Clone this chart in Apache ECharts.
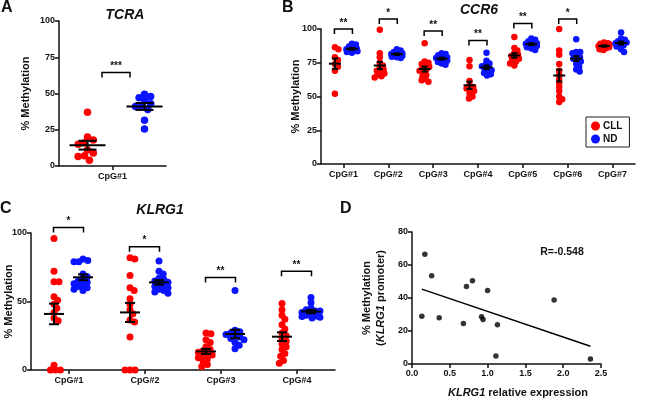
<!DOCTYPE html>
<html>
<head>
<meta charset="utf-8">
<script src="https://cdn.jsdelivr.net/npm/echarts@6/dist/echarts.min.js"></script>
<style>
  html, body { margin: 0; padding: 0; background: #fff; }
  #chart { width: 650px; height: 399px; }
</style>
</head>
<body>
<div id="chart"></div>
<script>
// ---- data ----
const tcraCats = ['CpG#1'];
const tcraCLL = [[37, 20, 18, 16, 15, 11, 9, 7, 6.5, 4]];
const tcraND = [[49.5, 48, 47, 45, 43, 41, 41, 39, 31.5, 25.5]];
const tcraSig = ['***'];
const tcraSigY = [64.5];

const ccr6Cats = ['CpG#1', 'CpG#2', 'CpG#3', 'CpG#4', 'CpG#5', 'CpG#6', 'CpG#7'];
const ccr6CLL = [
    [86.5, 85, 79, 77, 74, 72, 69, 52],
    [99.5, 82, 79, 75, 73, 71, 70, 69, 68, 67, 66, 65, 64],
    [89.5, 76, 75, 74, 73, 72, 71, 70, 69, 68, 66, 65, 63, 62, 61],
    [77, 72.5, 61.5, 58, 57, 56, 55, 54, 52, 50, 48.5],
    [94, 86, 84, 82, 81, 80, 79, 78, 77, 76, 74.5, 73],
    [100, 84, 81, 74, 69, 66, 63, 60, 57, 54, 50, 48, 46],
    [90, 89.5, 89, 88.5, 88, 87.5, 87, 86.5, 86, 85, 84.5]
];
const ccr6ND = [
    [89, 88.5, 87, 86, 85.5, 85, 84.5, 84, 83.5, 83, 82.5],
    [85, 84, 83, 82.5, 82, 81.5, 81, 80.5, 80, 79.5, 79, 78.5],
    [82, 81.5, 80.5, 79.5, 79, 78.5, 78, 77.5, 76.5, 75.5, 74.5, 73.5],
    [82.5, 76.5, 74.5, 73.5, 72.5, 71.5, 70.5, 69.5, 68.5, 67.5, 66.5, 65.5],
    [93, 92, 91, 90, 89.5, 89, 88.5, 88, 87.5, 86.5, 85.5, 84.5],
    [92.5, 83, 83, 82, 80, 79, 78, 77, 76, 74, 72, 70, 68.5],
    [97.5, 93, 92, 91, 90.5, 90, 89.5, 89, 88, 87, 85, 83]
];
const ccr6Sig = ['**', '*', '**', '**', '**', '*', ''];
const ccr6SigY = [100, 107.5, 98.5, 91.5, 104, 107.5, null];

const klrg1Cats = ['CpG#1', 'CpG#2', 'CpG#3', 'CpG#4'];
const klrg1CLL = [
    [96, 72, 64.5, 64.5, 53.5, 51, 48, 45, 42, 38, 36, 3.5, 0, 0, 0],
    [82, 81, 69, 60, 58, 52, 48, 44, 41, 36.5, 35, 24, 0, 0, 0],
    [27, 26.5, 22, 20, 17, 15, 14, 13, 12, 11, 10, 9, 8, 6, 4, 2.5],
    [48.5, 44, 40, 37, 33, 30, 27, 25, 23, 21, 19, 17, 15, 12, 10, 7, 5]
];
const klrg1ND = [
    [81, 80, 79, 79, 70, 68, 66, 65, 64, 63, 62, 61, 60, 59, 58],
    [79.5, 72, 70, 67, 66, 65, 64, 63, 62, 61, 60, 59, 58, 57, 56],
    [58, 29, 28, 27, 26, 25, 24, 23, 22, 20, 18, 15.5],
    [53, 49, 45, 43, 44, 43, 42, 41, 40, 39.5, 39, 38.5, 38]
];
const klrg1Sig = ['*', '*', '**', '**'];
const klrg1SigY = [104, 90, 67.5, 72];

const exprX = [0.17, 0.13, 0.26, 0.36, 0.68, 0.72, 0.80, 0.92, 0.94, 1.00, 1.11, 1.13, 1.88, 2.36];
const methY = [66.5, 29, 53.5, 28, 24.6, 47, 50.5, 28.7, 27, 44.6, 4.8, 23.8, 38.8, 3];
const rLabel = 'R=-0.548';

// ---- styling ----
const FONT = 'Liberation Sans, Arial, sans-serif';
const RED = '#ff0000';
const BLUE = '#0a14ff';
const INK = '#111';

// cllOff / ndOff: pixel offset of each group from its category centre
const panels = [
    { cats: tcraCats, cll: tcraCLL, nd: tcraND, sig: tcraSig, sigY: tcraSigY,
      grid: { left: 59, top: 21, width: 107, height: 145 }, interval: 25, nameGap: 28,
      cllOff: -25, ndOff: 32, dot: 7.5, minDist: 6.5, spread: 14, meanW: 36, capW: 18, half: 14 },
    { cats: ccr6Cats, cll: ccr6CLL, nd: ccr6ND, sig: ccr6Sig, sigY: ccr6SigY,
      grid: { left: 321, top: 29, width: 314, height: 135 }, interval: 25, nameGap: 20,
      cllOff: -8.5, ndOff: 8.5, dot: 6.5, minDist: 4, spread: 5.5, meanW: 12, capW: 6, half: 9 },
    { cats: klrg1Cats, cll: klrg1CLL, nd: klrg1ND, sig: klrg1Sig, sigY: klrg1SigY,
      grid: { left: 31, top: 233, width: 304, height: 137 }, interval: 50, nameGap: 17,
      cllOff: -15, ndOff: 14, dot: 7, minDist: 5, spread: 9, meanW: 20, capW: 10, half: 15 }
];

function mean(a) {
    return a.reduce((s, v) => s + v, 0) / a.length;
}
function sem(a) {
    const m = mean(a);
    const v = a.reduce((s, x) => s + (x - m) * (x - m), 0) / (a.length - 1);
    return Math.sqrt(v / a.length);
}

// simple beeswarm: horizontal pixel offsets (limited to +-spread) so dots don't pile up
function swarm(values, yScale, minDist, spread) {
    const placed = [];
    return values.map(v => {
        const y = v * yScale;
        const cands = [0, spread, -spread];
        placed.forEach(q => {
            const dy = Math.abs(q.y - y);
            if (dy < minDist) {
                const dx = Math.sqrt(minDist * minDist - dy * dy);
                cands.push(q.x + dx, q.x - dx);
            }
        });
        const ok = cands.filter(c => Math.abs(c) <= spread + 0.01);
        ok.sort((a, b) => Math.abs(a) - Math.abs(b));
        const gap = c => Math.min(Infinity, ...placed.map(q => Math.hypot(q.x - c, q.y - y)));
        let x = ok.find(c => gap(c) >= minDist - 0.01);
        if (x === undefined) {
            x = ok.reduce((best, c) => (gap(c) > gap(best) ? c : best), ok[0]);
        }
        placed.push({ x, y });
        return x;
    });
}

const axisLine = { show: true, onZero: false, lineStyle: { color: INK, width: 1.5 } };
const axisTick = { show: true, length: 4, lineStyle: { color: INK, width: 1.5 } };
const tickLabel = { color: INK, fontFamily: FONT, fontWeight: 'bold', fontSize: 9 };

const grids = [];
const xAxes = [];
const yAxes = [];
const series = [];

panels.forEach((p, k) => {
    const n = p.cats.length;
    grids.push(Object.assign({ outerBoundsMode: 'none', containLabel: false }, p.grid));
    xAxes.push({
        type: 'category', gridIndex: k, data: p.cats,
        axisLine, axisTick: Object.assign({ alignWithLabel: true }, axisTick),
        axisLabel: Object.assign({ margin: 6, interval: 0 }, tickLabel),
        splitLine: { show: false }
    });
    // hidden value axis: category i sits at x = i
    xAxes.push({ type: 'value', gridIndex: k, min: -0.5, max: n - 0.5, show: false });
    yAxes.push({
        type: 'value', gridIndex: k, min: 0, max: 100, interval: p.interval,
        name: '% Methylation', nameLocation: 'middle', nameGap: p.nameGap, nameMoveOverlap: false,
        nameTextStyle: { color: INK, fontFamily: FONT, fontWeight: 'bold', fontSize: 11 },
        axisLine, axisTick, axisLabel: Object.assign({ margin: 4 }, tickLabel),
        splitLine: { show: false }
    });

    const xi = 2 * k + 1;
    const unit = p.grid.width / n;
    const yScale = p.grid.height / 100;
    const cllPts = [], ndPts = [], stats = [], brackets = [], bracketText = [];
    p.cats.forEach((c, i) => {
        const rx = i + p.cllOff / unit;
        const bx = i + p.ndOff / unit;
        swarm(p.cll[i], yScale, p.minDist, p.spread).forEach((dx, j) => cllPts.push([rx + dx / unit, p.cll[i][j]]));
        swarm(p.nd[i], yScale, p.minDist, p.spread).forEach((dx, j) => ndPts.push([bx + dx / unit, p.nd[i][j]]));
        stats.push([rx, mean(p.cll[i]), sem(p.cll[i])]);
        stats.push([bx, mean(p.nd[i]), sem(p.nd[i])]);
        if (p.sig[i]) {
            brackets.push([rx, p.sigY[i], bx]);
            bracketText.push(p.sig[i]);
        }
    });

    series.push({
        name: 'CLL', type: 'scatter', xAxisIndex: xi, yAxisIndex: k, data: cllPts,
        symbolSize: p.dot, itemStyle: { color: RED, opacity: 1 }, clip: false, z: 2
    });
    series.push({
        name: 'ND', type: 'scatter', xAxisIndex: xi, yAxisIndex: k, data: ndPts,
        symbolSize: p.dot, itemStyle: { color: BLUE, opacity: 1 }, clip: false, z: 2
    });
    series.push({
        type: 'custom', xAxisIndex: xi, yAxisIndex: k, data: stats, z: 4, silent: true,
        renderItem: (params, api) => {
            const c = api.coord([api.value(0), api.value(1)]);
            const hi = api.coord([api.value(0), api.value(1) + api.value(2)]);
            const lo = api.coord([api.value(0), api.value(1) - api.value(2)]);
            const st = { stroke: '#000', lineWidth: 2 };
            return {
                type: 'group', children: [
                    { type: 'line', shape: { x1: c[0] - p.meanW / 2, y1: c[1], x2: c[0] + p.meanW / 2, y2: c[1] }, style: st },
                    { type: 'line', shape: { x1: c[0], y1: hi[1], x2: c[0], y2: lo[1] }, style: st },
                    { type: 'line', shape: { x1: c[0] - p.capW / 2, y1: hi[1], x2: c[0] + p.capW / 2, y2: hi[1] }, style: st },
                    { type: 'line', shape: { x1: c[0] - p.capW / 2, y1: lo[1], x2: c[0] + p.capW / 2, y2: lo[1] }, style: st }
                ]
            };
        }
    });
    series.push({
        type: 'custom', xAxisIndex: xi, yAxisIndex: k, data: brackets, z: 4, silent: true,
        renderItem: (params, api) => {
            const a = api.coord([api.value(0), api.value(1)]);
            const b = api.coord([api.value(2), api.value(1)]);
            const mid = (a[0] + b[0]) / 2;
            const y = a[1];
            return {
                type: 'group', children: [
                    { type: 'polyline',
                      shape: { points: [[mid - p.half, y + 5], [mid - p.half, y], [mid + p.half, y], [mid + p.half, y + 5]] },
                      style: { stroke: '#000', lineWidth: 1.5, fill: null } },
                    { type: 'text', x: mid, y: y - 1,
                      style: { text: bracketText[params.dataIndex], font: 'bold 10px ' + FONT, fill: INK,
                               align: 'center', verticalAlign: 'bottom', textAlign: 'center', textVerticalAlign: 'bottom' } }
                ]
            };
        }
    });
});

// ---- panel D: scatter with least-squares line ----
grids.push({ left: 412, top: 232, width: 189, height: 132, outerBoundsMode: 'none', containLabel: false });
xAxes.push({
    type: 'value', gridIndex: 3, min: 0, max: 2.5, interval: 0.5,
    name: '{i|KLRG1} relative expression', nameLocation: 'middle', nameGap: 23, nameMoveOverlap: false,
    nameTextStyle: {
        color: INK, fontFamily: FONT, fontWeight: 'bold', fontSize: 11, padding: [0, 0, 0, 23],
        rich: { i: { fontStyle: 'italic', fontWeight: 'bold', fontSize: 11, fontFamily: FONT, color: INK } }
    },
    axisLine, axisTick, axisLabel: Object.assign({ margin: 5, formatter: v => v.toFixed(1) }, tickLabel),
    splitLine: { show: false }
});
yAxes.push({
    type: 'value', gridIndex: 3, min: 0, max: 80, interval: 20,
    name: '% Methylation\n({i|KLRG1} promoter)', nameLocation: 'middle', nameGap: 24, nameMoveOverlap: false,
    nameTextStyle: {
        color: INK, fontFamily: FONT, fontWeight: 'bold', fontSize: 11, lineHeight: 14,
        rich: { i: { fontStyle: 'italic', fontWeight: 'bold', fontSize: 11, fontFamily: FONT, color: INK, lineHeight: 14 } }
    },
    axisLine, axisTick, axisLabel: Object.assign({ margin: 4 }, tickLabel),
    splitLine: { show: false }
});

const mx = mean(exprX), my = mean(methY);
let sxy = 0, sxx = 0;
exprX.forEach((x, i) => { sxy += (x - mx) * (methY[i] - my); sxx += (x - mx) * (x - mx); });
const slope = sxy / sxx;
const icpt = my - slope * mx;
const x0 = Math.min(...exprX), x1 = Math.max(...exprX);

series.push({
    type: 'scatter', xAxisIndex: 6, yAxisIndex: 3, symbolSize: 5.5,
    data: exprX.map((x, i) => [x, methY[i]]), itemStyle: { color: '#000' }, z: 3
});
series.push({
    type: 'line', xAxisIndex: 6, yAxisIndex: 3, symbol: 'none', silent: true,
    data: [[x0, icpt + slope * x0], [x1, icpt + slope * x1]],
    lineStyle: { color: '#000', width: 1.5 }, z: 2
});

function label(text, x, y, size, italic, align) {
    return {
        type: 'text', x, y,
        style: { text, font: (italic ? 'italic ' : '') + 'bold ' + size + 'px ' + FONT, fill: INK,
                 align: align || 'center', verticalAlign: 'middle',
                 textAlign: align || 'center', textVerticalAlign: 'middle' }
    };
}

const chart = echarts.init(document.getElementById('chart'), null, { renderer: 'canvas' });
chart.setOption({
    backgroundColor: '#fff',
    animation: false,
    grid: grids,
    xAxis: xAxes,
    yAxis: yAxes,
    legend: {
        data: ['CLL', 'ND'], orient: 'vertical', left: 586, top: 117,
        icon: 'circle', itemWidth: 9, itemHeight: 9, itemGap: 3,
        borderColor: '#222', borderWidth: 1, padding: [4, 7, 3, 5],
        textStyle: { color: INK, fontFamily: FONT, fontWeight: 'bold', fontSize: 10, padding: [0, 0, 0, -2] },
        selectedMode: false
    },
    graphic: [
        label('A', 1, 8, 16, false, 'left'),
        label('TCRA', 125, 15, 14, true),
        label('B', 282, 8, 16, false, 'left'),
        label('CCR6', 479, 10, 14, true),
        label('C', 0, 209, 16, false, 'left'),
        label('KLRG1', 160, 210, 14, true),
        label('D', 340, 209, 16, false, 'left'),
        label(rLabel, 562, 252, 10.5, false)
    ],
    series
});
</script>
</body>
</html>
